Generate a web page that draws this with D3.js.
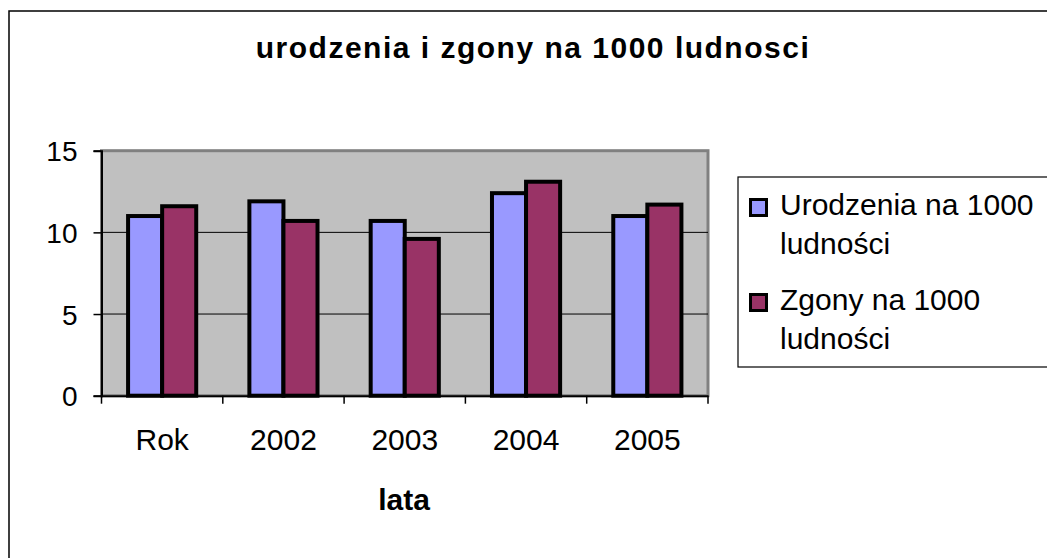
<!DOCTYPE html>
<html>
<head>
<meta charset="utf-8">
<script src="https://cdn.jsdelivr.net/npm/d3@7"></script>
<style>
  html, body { margin: 0; padding: 0; background: #fff; }
  svg { display: block; font-family: "Liberation Sans", Arial, sans-serif; }
</style>
</head>
<body>
<svg id="chart" width="1047" height="558"></svg>
<script>
const categories = ["Rok", "2002", "2003", "2004", "2005"];
const seriesNames = ["Urodzenia na 1000 ludności", "Zgony na 1000 ludności"];
const births = [11.0, 11.9, 10.7, 12.4, 11.0];
const deaths = [11.6, 10.7, 9.6, 13.1, 11.7];
const yTicks = [0, 5, 10, 15];
const legendLines = [["Urodzenia na 1000", "ludności"], ["Zgony na 1000", "ludności"]];
const colors = ["#9999FF", "#993366"];
const titleText = "urodzenia i zgony na 1000 ludnosci";
const xTitle = "lata";

const svg = d3.select("#chart");

// outer frame
svg.append("rect").attr("x", 9).attr("y", 11).attr("width", 1100).attr("height", 600)
  .attr("fill", "#fff").attr("stroke", "#000").attr("stroke-width", 1.5);

const plot = { left: 101.5, right: 708, top: 150.7, bottom: 395.7 };

const x0 = d3.scaleBand().domain(categories).range([plot.left, plot.right]).padding(0);
const x1 = d3.scaleBand().domain(seriesNames).range([0, x0.bandwidth()]).paddingInner(0).paddingOuter(0.78);
const y = d3.scaleLinear().domain([0, 15]).range([plot.bottom, plot.top]);

// plot area
svg.append("rect").attr("x", plot.left).attr("y", plot.top)
  .attr("width", plot.right - plot.left).attr("height", plot.bottom - plot.top)
  .attr("fill", "#C0C0C0").attr("stroke", "#808080").attr("stroke-width", 3);

// gridlines
svg.append("g").selectAll("line").data(yTicks.filter(d => d > 0 && d < 15)).join("line")
  .attr("x1", plot.left).attr("x2", plot.right)
  .attr("y1", d => y(d)).attr("y2", d => y(d))
  .attr("stroke", "#000").attr("stroke-width", 1);

// bars
const data = categories.map((c, i) => ({ cat: c, vals: [births[i], deaths[i]] }));
const groups = svg.append("g").selectAll("g").data(data).join("g")
  .attr("transform", d => `translate(${x0(d.cat)},0)`);
groups.selectAll("rect").data(d => d.vals.map((v, j) => ({ v, s: seriesNames[j], j }))).join("rect")
  .attr("x", d => x1(d.s)).attr("width", x1.bandwidth())
  .attr("y", d => y(d.v)).attr("height", d => y(0) - y(d.v))
  .attr("fill", d => colors[d.j]).attr("stroke", "#000").attr("stroke-width", 4);

// y axis
const yAxis = d3.axisLeft(y).tickValues(yTicks).tickSize(8).tickPadding(16);
const yg = svg.append("g").attr("transform", `translate(${plot.left},0)`).call(yAxis);
yg.select(".domain").attr("stroke", "#000").attr("stroke-width", 2);
yg.selectAll(".tick line").attr("stroke", "#000").attr("stroke-width", 1.5);
yg.selectAll(".tick text").attr("font-size", 28).attr("fill", "#000")
  .attr("font-family", "Liberation Sans, Arial, sans-serif").attr("dy", "0.36em");

// x axis
const xAxis = d3.axisBottom(x0).tickSize(0).tickPadding(0);
const xg = svg.append("g").attr("transform", `translate(0,${plot.bottom})`).call(xAxis);
xg.select(".domain").attr("stroke", "#000").attr("stroke-width", 2);
xg.selectAll(".tick text").attr("font-size", 30).attr("fill", "#000")
  .attr("font-family", "Liberation Sans, Arial, sans-serif")
  .attr("y", 450 - plot.bottom).attr("dy", 0);
// x category boundary ticks
const boundaries = categories.map(c => x0(c)).concat([x0.range()[1]]);
xg.append("g").selectAll("line").data(boundaries).join("line")
  .attr("x1", d => d).attr("x2", d => d).attr("y1", 0).attr("y2", 8)
  .attr("stroke", "#000").attr("stroke-width", 1.5);

// title
svg.append("text").attr("x", 533).attr("y", 58).attr("text-anchor", "middle")
  .attr("font-size", 30).attr("font-weight", "bold").attr("letter-spacing", 1.5)
  .text(titleText);

// x axis title
svg.append("text").attr("x", 404).attr("y", 510).attr("text-anchor", "middle")
  .attr("font-size", 30).attr("font-weight", "bold").text(xTitle);

// legend
svg.append("rect").attr("x", 738).attr("y", 177).attr("width", 400).attr("height", 190)
  .attr("fill", "#fff").attr("stroke", "#000").attr("stroke-width", 1.2);
const legBase = [215, 310];
const leg = svg.append("g").selectAll("g").data(seriesNames).join("g");
leg.append("rect").attr("x", 750.5).attr("y", (d, i) => legBase[i] - 15.5)
  .attr("width", 16).attr("height", 16)
  .attr("fill", (d, i) => colors[i]).attr("stroke", "#000").attr("stroke-width", 3);
leg.each(function(d, i) {
  const t = d3.select(this).append("text").attr("x", 780).attr("y", legBase[i]).attr("font-size", 30);
  legendLines[i].forEach((line, k) => {
    t.append("tspan").attr("x", 780).attr("y", legBase[i] + k * 39).text(line);
  });
});
</script>
</body>
</html>
